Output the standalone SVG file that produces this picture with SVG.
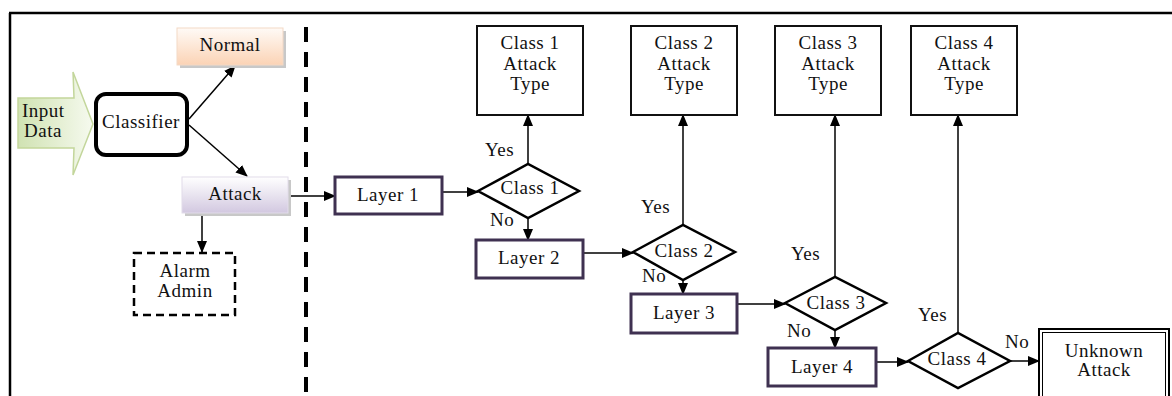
<svg xmlns="http://www.w3.org/2000/svg" width="1172" height="396" viewBox="0 0 1172 396">
<defs>
<marker id="ah" markerUnits="userSpaceOnUse" markerWidth="12" markerHeight="10" refX="11" refY="5" orient="auto">
<path d="M0,0 L12,5 L0,10 Z" fill="#000"/>
</marker>
<linearGradient id="gNormal" x1="0" y1="0" x2="0" y2="1">
<stop offset="0" stop-color="#fffaf6"/><stop offset="1" stop-color="#fbd3b5"/>
</linearGradient>
<linearGradient id="gAttack" x1="0" y1="0" x2="0" y2="1">
<stop offset="0" stop-color="#ffffff"/><stop offset="1" stop-color="#d2c8e0"/>
</linearGradient>
<linearGradient id="gInput" x1="0" y1="0" x2="1" y2="0">
<stop offset="0" stop-color="#d0e2b2"/><stop offset="1" stop-color="#f6faef"/>
</linearGradient>
<style>
text{font-family:"Liberation Serif","Times New Roman",serif;font-size:19px;letter-spacing:0.5px;fill:#111;text-anchor:middle}
.lbl{text-anchor:start}
.layer{fill:#fff;stroke:#3f3151;stroke-width:3}
.atype{fill:#fff;stroke:#111;stroke-width:2}
.dia{fill:#fff;stroke:#000;stroke-width:2.5}
.conn{fill:none;stroke:#000;stroke-width:1.5}
.arr{marker-end:url(#ah)}
</style>
</defs>
<rect width="1172" height="396" fill="#fff"/>
<g id="frame">
<path d="M9,13 H1172 M10,13 V396" fill="none" stroke="#000" stroke-width="2.5"/>
<path d="M306,27 V396" fill="none" stroke="#000" stroke-width="4" stroke-dasharray="15 10"/>
</g>
<g id="connectors">
<path class="conn arr" d="M189,119 L235,66"/>
<path class="conn arr" d="M189,125 L247,176"/>
<path class="conn arr" d="M202,213 V252"/>
<path class="conn arr" d="M288,196 H335"/>
<path class="conn arr" d="M442,192 H478"/>
<path class="conn arr" d="M528,218 V240"/>
<path class="conn arr" d="M528,164 V115"/>
<path class="conn arr" d="M583,253 H633"/>
<path class="conn arr" d="M683,280 V294"/>
<path class="conn arr" d="M683,225 V115"/>
<path class="conn arr" d="M737,304 H785"/>
<path class="conn arr" d="M835,330 V348"/>
<path class="conn arr" d="M835,277 V115"/>
<path class="conn arr" d="M876,362 H908"/>
<path class="conn arr" d="M958,333 V115"/>
<path class="conn arr" d="M1010,361 H1039"/>
<text class="lbl" x="485" y="156">Yes</text>
<text class="lbl" x="490" y="226">No</text>
<text class="lbl" x="641" y="213">Yes</text>
<text class="lbl" x="642" y="282">No</text>
<text class="lbl" x="791" y="260">Yes</text>
<text class="lbl" x="787" y="337">No</text>
<text class="lbl" x="918" y="321">Yes</text>
<text class="lbl" x="1005" y="348">No</text>
</g>
<g id="input">
<polygon points="18,98 74,98 73,72 93,124 73,175 74,148 18,148" fill="url(#gInput)" stroke="#c3d69b" stroke-width="1.5"/>
<text class="lbl" x="22" y="117">Input</text>
<text class="lbl" x="24" y="137">Data</text>
</g>
<g id="classifier">
<rect x="96" y="94" width="91" height="61" rx="10" fill="#fff" stroke="#000" stroke-width="4"/>
<text x="141" y="128">Classifier</text>
</g>
<g id="normal">
<rect x="180" y="31" width="106" height="37" fill="#c8c8c8"/>
<rect x="177" y="28" width="106" height="37" fill="url(#gNormal)" stroke="#f3d9c6" stroke-width="1"/>
<text x="230" y="51">Normal</text>
</g>
<g id="attack">
<rect x="185" y="180" width="106" height="36" fill="#c8c8c8"/>
<rect x="182" y="177" width="106" height="36" fill="url(#gAttack)" stroke="#e2dcea" stroke-width="1"/>
<text x="235" y="200">Attack</text>
</g>
<g id="alarm">
<rect x="134" y="253" width="101" height="62" fill="#fff" stroke="#000" stroke-width="2.5" stroke-dasharray="8 5"/>
<text x="185" y="277">Alarm</text>
<text x="185" y="297">Admin</text>
</g>
<g id="layer1">
<rect class="layer" x="335" y="177" width="107" height="37"/>
<text x="388" y="201">Layer 1</text>
</g>
<g id="class1">
<polygon class="dia" points="478,191 528,164 579,191 528,218"/>
<text x="530" y="194">Class 1</text>
</g>
<g id="layer2">
<rect class="layer" x="476" y="240" width="107" height="38"/>
<text x="529" y="264">Layer 2</text>
</g>
<g id="class2">
<polygon class="dia" points="633,252 683,225 735,252 683,280"/>
<text x="684" y="257">Class 2</text>
</g>
<g id="layer3">
<rect class="layer" x="631" y="294" width="106" height="39"/>
<text x="684" y="319">Layer 3</text>
</g>
<g id="class3">
<polygon class="dia" points="785,303 835,277 886,303 835,330"/>
<text x="836" y="309">Class 3</text>
</g>
<g id="layer4">
<rect class="layer" x="768" y="348" width="108" height="38"/>
<text x="822" y="373">Layer 4</text>
</g>
<g id="class4">
<polygon class="dia" points="908,361 958,333 1010,361 958,388"/>
<text x="957" y="365">Class 4</text>
</g>
<g id="unknown">
<rect x="1039" y="329" width="130" height="70" fill="#fff" stroke="#000" stroke-width="2"/>
<rect x="1042.5" y="332.5" width="123" height="70" fill="none" stroke="#000" stroke-width="1"/>
<text x="1104" y="357">Unknown</text>
<text x="1104" y="376">Attack</text>
</g>
<g id="type1">
<rect class="atype" x="477" y="26" width="106" height="89"/>
<text x="530" y="49">Class 1</text>
<text x="530" y="70">Attack</text>
<text x="530" y="90">Type</text>
</g>
<g id="type2">
<rect class="atype" x="631" y="26" width="106" height="89"/>
<text x="684" y="49">Class 2</text>
<text x="684" y="70">Attack</text>
<text x="684" y="90">Type</text>
</g>
<g id="type3">
<rect class="atype" x="775" y="26" width="106" height="89"/>
<text x="828" y="49">Class 3</text>
<text x="828" y="70">Attack</text>
<text x="828" y="90">Type</text>
</g>
<g id="type4">
<rect class="atype" x="911" y="26" width="106" height="89"/>
<text x="964" y="49">Class 4</text>
<text x="964" y="70">Attack</text>
<text x="964" y="90">Type</text>
</g>
</svg>
